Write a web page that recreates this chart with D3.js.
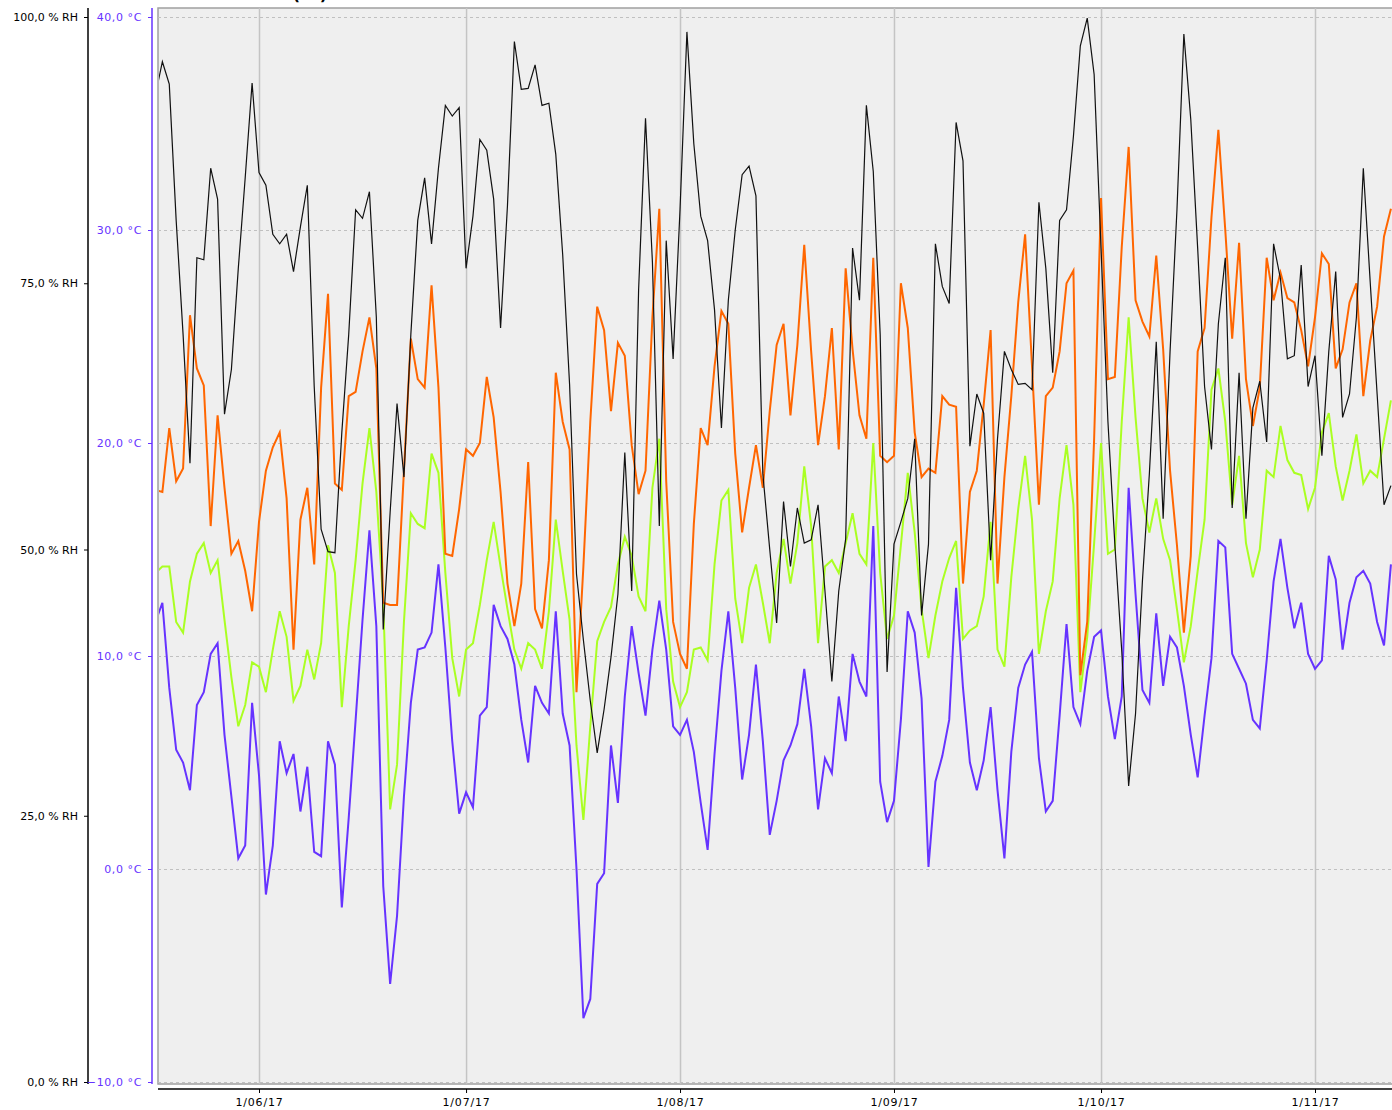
<!DOCTYPE html>
<html>
<head>
<meta charset="utf-8">
<script src="https://cdn.jsdelivr.net/npm/d3@7"></script>
<style>
  body { margin: 0; background: #ffffff; }
  svg { display: block; font-family: "DejaVu Sans", sans-serif; }
</style>
</head>
<body>
<div id="chart"></div>
<script>
// daily readings, first day 17/05/17
const startDay = new Date(2017, 4, 17)

// relative humidity (% RH), black line
const humidity = [
  92.7, 95.8, 93.7, 80.9, 70.2, 58.1, 77.4, 77.2, 85.8, 82.9,
  62.7, 66.9, 76.4, 84.9, 93.8, 85.4, 84.2, 79.6, 78.7, 79.6,
  76.1, 80.3, 84.2, 65.3, 51.9, 49.8, 49.7, 61.0, 70.2, 81.9,
  81.1, 83.6, 71.8, 42.5, 53.5, 63.7, 56.8, 70.2, 80.9, 84.9,
  78.7, 85.8, 91.7, 90.7, 91.5, 76.4, 81.3, 88.5, 87.5, 82.9,
  70.8, 82.3, 97.7, 93.2, 93.3, 95.5, 91.7, 91.9, 87.1, 77.7,
  65.5, 47.7, 41.5, 35.8, 30.9, 35.0, 39.9, 45.8, 59.1, 46.1,
  74.4, 90.5, 77.0, 52.2, 79.0, 67.9, 81.9, 98.6, 88.1, 81.3,
  79.0, 72.5, 61.4, 73.4, 80.0, 85.2, 86.0, 83.2, 57.1, 50.0,
  43.1, 54.5, 48.4, 53.9, 50.6, 50.9, 54.2, 46.1, 37.6, 46.1,
  51.0, 78.3, 73.4, 91.7, 85.5, 70.2, 38.5, 50.5, 52.6, 54.8,
  60.4, 43.8, 50.5, 78.7, 74.7, 73.1, 90.1, 86.5, 59.7, 64.6,
  62.8, 49.0, 60.4, 68.6, 66.9, 65.5, 65.6, 65.0, 82.6, 76.4,
  66.6, 80.9, 81.9, 88.8, 97.3, 99.9, 94.6, 78.3, 62.0, 50.5,
  40.5, 27.8, 34.6, 47.1, 57.1, 69.5, 52.9, 68.6, 81.9, 98.4,
  90.4, 78.3, 65.3, 59.4, 71.2, 77.4, 53.9, 66.6, 52.9, 63.3,
  65.8, 60.1, 78.7, 75.4, 67.9, 68.2, 76.7, 65.3, 68.2, 58.8,
  68.6, 76.1, 62.4, 64.6, 71.8, 85.8, 75.1, 64.6, 54.2, 56.0
]

// maximum temperature (°C), orange
const tempMax = [
  17.8, 17.7, 20.7, 18.2, 18.8, 26.0, 23.5, 22.7, 16.1, 21.3,
  17.9, 14.8, 15.4, 14.0, 12.1, 16.3, 18.7, 19.8, 20.5, 17.4,
  10.3, 16.4, 17.9, 14.3, 22.6, 27.0, 18.1, 17.8, 22.2, 22.4,
  24.3, 25.9, 23.5, 12.5, 12.4, 12.4, 18.7, 24.9, 23.0, 22.6,
  27.4, 22.6, 14.8, 14.7, 16.9, 19.7, 19.4, 20.0, 23.1, 21.2,
  17.7, 13.4, 11.4, 13.4, 19.1, 12.2, 11.3, 14.5, 23.3, 21.0,
  19.7, 8.3, 14.2, 21.0, 26.4, 25.3, 21.5, 24.7, 24.1, 19.9,
  17.6, 18.7, 25.9, 31.0, 18.2, 11.6, 10.1, 9.4, 16.2, 20.7,
  19.9, 23.6, 26.2, 25.6, 19.5, 15.8, 17.9, 19.9, 17.9, 21.5,
  24.6, 25.6, 21.3, 24.6, 29.3, 24.3, 19.9, 22.2, 25.4, 19.7,
  28.2, 24.4, 21.3, 20.2, 28.7, 19.4, 19.1, 19.4, 27.5, 25.4,
  20.5, 18.4, 18.8, 18.6, 22.2, 21.8, 21.7, 13.4, 17.7, 18.7,
  21.8, 25.3, 13.4, 18.4, 22.2, 26.6, 29.8, 23.6, 17.1, 22.2,
  22.6, 24.3, 27.5, 28.1, 9.1, 11.6, 20.2, 31.5, 23.0, 23.1,
  29.2, 33.9, 26.7, 25.7, 25.0, 28.8, 24.4, 18.7, 15.2, 11.1,
  14.7, 24.3, 25.4, 30.6, 34.7, 30.0, 24.9, 29.4, 23.0, 20.8,
  22.6, 28.7, 26.7, 28.0, 26.8, 26.6, 25.3, 23.6, 25.9, 28.9,
  28.4, 23.5, 24.4, 26.6, 27.5, 22.2, 24.8, 26.4, 29.7, 31.0
]

// mean temperature (°C), green
const tempMean = [
  13.9, 14.2, 14.2, 11.6, 11.1, 13.5, 14.8, 15.3, 13.9, 14.5,
  11.7, 9.0, 6.7, 7.7, 9.7, 9.5, 8.3, 10.3, 12.1, 10.9,
  7.9, 8.6, 10.3, 8.9, 10.6, 15.2, 13.9, 7.6, 11.4, 14.5,
  18.1, 20.7, 17.7, 12.5, 2.8, 4.9, 11.6, 16.7, 16.2, 16.0,
  19.5, 18.6, 13.9, 9.9, 8.1, 10.3, 10.6, 12.4, 14.5, 16.3,
  14.2, 12.2, 10.3, 9.4, 10.6, 10.3, 9.4, 12.1, 16.4, 14.0,
  11.7, 5.8, 2.3, 6.7, 10.7, 11.6, 12.3, 14.3, 15.6, 14.7,
  12.8, 12.1, 17.9, 20.2, 12.2, 8.8, 7.6, 8.3, 10.3, 10.4,
  9.8, 14.3, 17.3, 17.8, 12.7, 10.6, 13.2, 14.3, 12.5, 10.6,
  13.9, 15.5, 13.4, 15.3, 18.9, 16.1, 10.6, 14.2, 14.5, 13.9,
  15.3, 16.7, 14.8, 14.3, 20.0, 13.9, 10.8, 11.9, 15.2, 18.6,
  15.8, 12.2, 9.9, 11.9, 13.5, 14.6, 15.4, 10.8, 11.2, 11.4,
  12.8, 16.3, 10.3, 9.5, 13.7, 16.9, 19.4, 16.4, 10.1, 12.1,
  13.5, 17.4, 19.9, 17.1, 8.3, 10.9, 15.3, 20.0, 14.8, 15.0,
  21.0, 25.9, 21.2, 17.4, 15.8, 17.4, 15.5, 14.5, 12.2, 9.7,
  11.4, 14.0, 16.4, 22.5, 23.5, 21.0, 17.1, 19.4, 15.3, 13.7,
  15.0, 18.7, 18.4, 20.8, 19.2, 18.6, 18.5, 16.9, 17.9, 20.5,
  21.4, 18.9, 17.3, 18.7, 20.4, 18.1, 18.7, 18.4, 20.2, 22.0
]

// minimum temperature (°C), purple
const tempMin = [
  11.6, 12.5, 8.5, 5.6, 5.0, 3.7, 7.7, 8.3, 10.1, 10.6,
  6.3, 3.4, 0.5, 1.1, 7.8, 4.4, -1.2, 1.1, 6.0, 4.5,
  5.4, 2.7, 4.8, 0.8, 0.6, 6.0, 4.9, -1.8, 2.4, 7.0,
  11.7, 15.9, 11.4, -0.8, -5.4, -2.2, 3.4, 7.8, 10.3, 10.4,
  11.1, 14.3, 10.4, 6.0, 2.6, 3.6, 2.9, 7.2, 7.6, 12.4,
  11.4, 10.8, 9.6, 7.0, 5.0, 8.6, 7.8, 7.3, 12.1, 7.3,
  5.8, 0.0, -7.0, -6.1, -0.7, -0.2, 5.8, 3.1, 8.1, 11.4,
  9.2, 7.2, 10.3, 12.6, 10.3, 6.7, 6.3, 7.0, 5.5, 3.1,
  0.9, 5.4, 9.3, 12.1, 8.5, 4.2, 6.3, 9.6, 6.0, 1.6,
  3.2, 5.1, 5.8, 6.8, 9.4, 6.7, 2.8, 5.2, 4.5, 8.1,
  6.0, 10.1, 8.8, 8.1, 16.1, 4.1, 2.2, 3.2, 7.0, 12.1,
  11.1, 8.0, 0.1, 4.1, 5.3, 7.0, 13.2, 8.5, 5.0, 3.7,
  5.1, 7.6, 3.7, 0.5, 5.5, 8.5, 9.6, 10.2, 5.2, 2.7,
  3.2, 7.2, 11.5, 7.6, 6.8, 9.3, 10.9, 11.2, 8.1, 6.1,
  8.1, 17.9, 12.9, 8.4, 7.8, 12.0, 8.6, 10.9, 10.4, 8.6,
  6.3, 4.3, 7.2, 9.9, 15.4, 15.1, 10.1, 9.4, 8.7, 7.0,
  6.6, 9.8, 13.5, 15.5, 13.2, 11.3, 12.5, 10.1, 9.4, 9.8,
  14.7, 13.6, 10.3, 12.5, 13.7, 14.0, 13.4, 11.6, 10.5, 14.3
]

const rhTicks = [0, 25, 50, 75, 100]
const tempTicks = [-10, 0, 10, 20, 30, 40]
const monthTicks = [new Date(2017, 5, 1), new Date(2017, 6, 1), new Date(2017, 7, 1),
                    new Date(2017, 8, 1), new Date(2017, 9, 1), new Date(2017, 10, 1)]
const monthLabels = ["1/06/17", "1/07/17", "1/08/17", "1/09/17", "1/10/17", "1/11/17"]

const days = humidity.map(function(d, i) { return d3.timeDay.offset(startDay, i) })

const W = 1392, H = 1110
const plot = {left: 158, top: 8, right: 1400, bottom: 1084}
const purple = "#6633ff"
const fontFamily = "'DejaVu Sans', sans-serif"
const fmt = function(v) { return d3.format(".1f")(v).replace(".", ",") }

var svg = d3.select("#chart").append("svg")
  .attr("width", W)
  .attr("height", H)

var x = d3.scaleTime().domain([monthTicks[0], monthTicks[5]]).range([259, 1315])
var yT = d3.scaleLinear().domain([-10, 40]).range([1082, 17])
var yRH = d3.scaleLinear().domain([0, 100]).range([1082, 17])

// title, only its lower edge is visible (as in the original)
svg.append("text")
  .attr("x", 310).attr("y", 0)
  .attr("text-anchor", "middle")
  .style("font-family", fontFamily)
  .style("font-size", "16px").style("font-weight", "bold")
  .text("(°C)")

// plot background
svg.append("rect")
  .attr("x", plot.left).attr("y", plot.top)
  .attr("width", plot.right - plot.left).attr("height", plot.bottom - plot.top)
  .attr("fill", "#efefef")
  .attr("stroke", "#a0a0a0").attr("stroke-width", 1.5)

// grid
svg.append("g")
  .attr("transform", "translate(0," + plot.bottom + ")")
  .call(d3.axisBottom(x).tickValues(monthTicks).tickSize(-(plot.bottom - plot.top)).tickFormat(""))
  .call(function(g) { g.select(".domain").remove() })
  .selectAll("line").attr("stroke", "#c4c4c4").attr("stroke-width", 1.5)

svg.append("g")
  .attr("transform", "translate(" + plot.left + ",0)")
  .call(d3.axisLeft(yT).tickValues(tempTicks).tickSize(-(plot.right - plot.left)).tickFormat(""))
  .call(function(g) { g.select(".domain").remove() })
  .selectAll("line").attr("stroke", "#c0c0c0").attr("stroke-dasharray", "3,3")

// series
svg.append("defs").append("clipPath").attr("id", "clip")
  .append("rect")
  .attr("x", plot.left + 1).attr("y", plot.top + 1)
  .attr("width", plot.right - plot.left).attr("height", plot.bottom - plot.top - 2)

var lines = svg.append("g").attr("clip-path", "url(#clip)")

var tLine = d3.line()
  .x(function(d, i) { return x(days[i]) })
  .y(function(d) { return yT(d) })
var rhLine = d3.line()
  .x(function(d, i) { return x(days[i]) })
  .y(function(d) { return yRH(d) })

var series = [
  {values: tempMean, colour: "#aaff22", width: 2, line: tLine},
  {values: tempMin, colour: purple, width: 2, line: tLine},
  {values: tempMax, colour: "#ff6600", width: 2, line: tLine},
  {values: humidity, colour: "#111111", width: 1.2, line: rhLine}
]
series.forEach(function(s) {
  lines.append("path")
    .datum(s.values)
    .attr("fill", "none")
    .attr("stroke", s.colour)
    .attr("stroke-width", s.width)
    .attr("stroke-linejoin", "miter")
    .attr("d", s.line)
})

// humidity axis
var rhAxis = svg.append("g").attr("transform", "translate(88,0)")
  .call(d3.axisLeft(yRH).tickValues(rhTicks).tickSize(4).tickPadding(6)
    .tickFormat(function(d) { return fmt(d) + " % RH" }))
rhAxis.select(".domain").remove()
rhAxis.append("line").attr("x1", 0).attr("x2", 0).attr("y1", 8).attr("y2", 1084)
  .attr("stroke", "#000").attr("stroke-width", 1.5)
rhAxis.selectAll("text")
  .style("font-family", fontFamily).style("font-size", "11px")
  .attr("fill", "#000")

// temperature axis
var tAxis = svg.append("g").attr("transform", "translate(152,0)")
  .call(d3.axisLeft(yT).tickValues(tempTicks).tickSize(4).tickPadding(6)
    .tickFormat(function(d) { return fmt(d) + " °C" }))
tAxis.select(".domain").remove()
tAxis.append("line").attr("x1", 0).attr("x2", 0).attr("y1", 8).attr("y2", 1084)
  .attr("stroke", purple).attr("stroke-width", 1.5)
tAxis.selectAll(".tick line").attr("stroke", purple)
tAxis.selectAll("text")
  .style("font-family", fontFamily).style("font-size", "11px")
  .style("letter-spacing", "0.6px")
  .attr("fill", purple)

// time axis
var xAxis = svg.append("g").attr("transform", "translate(0,1089)")
  .call(d3.axisBottom(x).tickValues(monthTicks).tickSize(4).tickPadding(5)
    .tickFormat(function(d, i) { return monthLabels[i] }))
xAxis.select(".domain").remove()
xAxis.append("line").attr("x1", plot.left).attr("x2", plot.right).attr("y1", 0).attr("y2", 0)
  .attr("stroke", "#000").attr("stroke-width", 1.5)
xAxis.selectAll("text")
  .style("font-family", fontFamily).style("font-size", "11px")
  .style("letter-spacing", "0.8px")
  .attr("fill", "#000")
</script>
</body>
</html>
